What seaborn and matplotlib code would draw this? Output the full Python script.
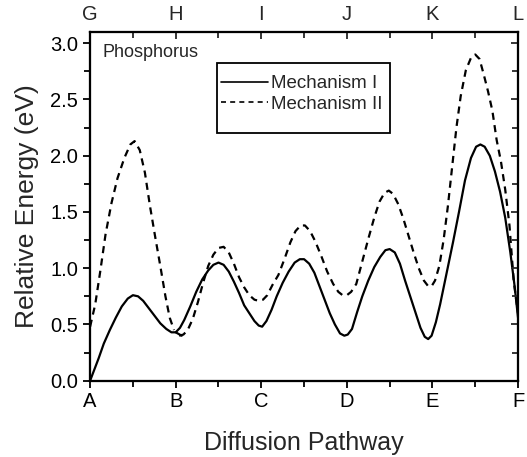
import pandas as pd
import matplotlib
matplotlib.use("Agg")
import matplotlib.pyplot as plt
from matplotlib.lines import Line2D
from matplotlib.patches import Rectangle
from matplotlib.ticker import MultipleLocator
import seaborn as sns

# values
mech1_ab_x = [0.00, 0.05, 0.10, 0.16, 0.23, 0.30, 0.37, 0.44, 0.50, 0.56, 0.62, 0.68, 0.75,
              0.82, 0.89, 0.95, 1.00, 1.07]
mech1_ab_y = [0.00, 0.10, 0.20, 0.33, 0.45, 0.56, 0.66, 0.73, 0.76, 0.75, 0.71, 0.65, 0.58,
              0.51, 0.46, 0.43, 0.43, 0.40]
mech1_bf_x = [1.00, 1.05, 1.10, 1.17, 1.24, 1.31, 1.38, 1.44, 1.50, 1.56, 1.62, 1.68, 1.74,
              1.80, 1.86, 1.92, 1.97, 2.01, 2.06, 2.12, 2.18, 2.25, 2.32, 2.39, 2.45, 2.50,
              2.56, 2.62, 2.68, 2.74, 2.80, 2.86, 2.92, 2.97, 3.01, 3.06, 3.12, 3.18, 3.25,
              3.32, 3.39, 3.45, 3.50, 3.56, 3.62, 3.68, 3.74, 3.80, 3.86, 3.91, 3.95, 3.99,
              4.04, 4.09, 4.15, 4.24, 4.31, 4.38, 4.45, 4.51, 4.56, 4.61, 4.67, 4.73, 4.79,
              4.85, 4.91, 4.96, 5.00]
mech1_bf_y = [0.43, 0.47, 0.54, 0.66, 0.79, 0.90, 0.98, 1.03, 1.05, 1.03, 0.97, 0.88, 0.78,
              0.67, 0.60, 0.53, 0.49, 0.48, 0.53, 0.63, 0.75, 0.87, 0.97, 1.05, 1.08, 1.08,
              1.04, 0.96, 0.84, 0.72, 0.60, 0.50, 0.42, 0.40, 0.41, 0.46, 0.61, 0.75, 0.89,
              1.01, 1.10, 1.16, 1.17, 1.14, 1.04, 0.89, 0.75, 0.61, 0.47, 0.39, 0.37, 0.40,
              0.52, 0.68, 0.90, 1.23, 1.50, 1.78, 1.98, 2.08, 2.10, 2.08, 2.00, 1.86, 1.68,
              1.45, 1.14, 0.84, 0.56]

mech2_ab_x = [0.00, 0.06, 0.12, 0.18, 0.25, 0.32, 0.40, 0.47, 0.52, 0.58, 0.64, 0.70, 0.76,
              0.82, 0.88, 0.93, 0.98]
mech2_ab_y = [0.48, 0.68, 0.98, 1.30, 1.58, 1.80, 1.98, 2.10, 2.13, 2.05, 1.85, 1.55, 1.28,
              1.02, 0.75, 0.56, 0.45]
mech2_bf_x = [1.04, 1.09, 1.14, 1.20, 1.26, 1.32, 1.38, 1.44, 1.50, 1.56, 1.62, 1.68, 1.74,
              1.80, 1.86, 1.92, 1.97, 2.02, 2.07, 2.13, 2.20, 2.27, 2.34, 2.40, 2.46, 2.51,
              2.57, 2.63, 2.70, 2.77, 2.84, 2.90, 2.95, 3.00, 3.05, 3.11, 3.18, 3.25, 3.32,
              3.38, 3.44, 3.49, 3.54, 3.60, 3.66, 3.72, 3.78, 3.84, 3.90, 3.95, 3.99, 4.03,
              4.08, 4.13, 4.18, 4.23, 4.28, 4.33, 4.39, 4.45, 4.50, 4.55, 4.60, 4.65, 4.70,
              4.75, 4.80, 4.85, 4.90, 4.95, 5.00]
mech2_bf_y = [0.40, 0.41, 0.45, 0.55, 0.70, 0.87, 1.02, 1.12, 1.18, 1.19, 1.14, 1.04, 0.92,
              0.83, 0.76, 0.72, 0.71, 0.72, 0.76, 0.85, 0.94, 1.08, 1.23, 1.33, 1.38, 1.38,
              1.33, 1.24, 1.11, 0.97, 0.86, 0.79, 0.76, 0.76, 0.79, 0.86, 1.06, 1.26, 1.45,
              1.59, 1.67, 1.69, 1.66, 1.57, 1.44, 1.29, 1.14, 1.00, 0.89, 0.84, 0.84, 0.89,
              1.02, 1.25, 1.55, 1.90, 2.25, 2.53, 2.76, 2.87, 2.90, 2.86, 2.72, 2.57, 2.40,
              2.14, 1.95, 1.70, 1.38, 0.88, 0.60]

bottom_labels = ["A", "B", "C", "D", "E", "F"]
top_labels = ["G", "H", "I", "J", "K", "L"]
series_names = ["Mechanism I", "Mechanism II"]

parts = []
for name, seg, xs, ys in [(series_names[0], "1a", mech1_ab_x, mech1_ab_y),
                          (series_names[0], "1b", mech1_bf_x, mech1_bf_y),
                          (series_names[1], "2a", mech2_ab_x, mech2_ab_y),
                          (series_names[1], "2b", mech2_bf_x, mech2_bf_y)]:
    parts.append(pd.DataFrame({"x": xs, "energy": ys, "mechanism": name, "segment": seg}))
df = pd.concat(parts, ignore_index=True)

sns.set_style("ticks")
plt.rcParams["font.family"] = ["Liberation Sans", "DejaVu Sans"]

dash_map = {"Mechanism I": "", "Mechanism II": (3.2, 2.4)}

fig = plt.figure(figsize=(5.27, 4.57), dpi=100)
ax = fig.add_axes([0.171, 0.167, 0.812, 0.763])
sns.lineplot(data=df, x="x", y="energy", style="mechanism", units="segment",
             estimator=None, sort=False, dashes=dash_map, color="black",
             linewidth=1.6, legend=False, ax=ax)

ax.set_xlim(0, 5)
ax.set_ylim(0, 3.1)
ax.set_xticks(range(6))
ax.set_xticklabels(bottom_labels)
ax.xaxis.set_minor_locator(MultipleLocator(0.5))
ax.yaxis.set_major_locator(MultipleLocator(0.5))
ax.yaxis.set_minor_locator(MultipleLocator(0.25))
ax.set_yticklabels([f"{v:.1f}" for v in ax.get_yticks()])
ax.tick_params(which="both", direction="out", width=1.3, colors="black", labelsize=14.5)
ax.tick_params(which="major", length=5)
ax.tick_params(which="minor", length=4)
ax.set_xlabel("Diffusion Pathway", fontsize=18, labelpad=14)
ax.set_ylabel("Relative Energy (eV)", fontsize=19, labelpad=8)
for sp in ax.spines.values():
    sp.set_visible(True)
    sp.set_linewidth(1.5)
    sp.set_color("black")

ax_top = ax.twiny()
ax_top.set_xlim(0, 5)
ax_top.set_xticks(range(6))
ax_top.set_xticklabels(top_labels)
ax_top.xaxis.set_minor_locator(MultipleLocator(0.5))
ax_top.tick_params(which="both", direction="in", width=1.3, labelsize=14.5, pad=6)
ax_top.tick_params(which="major", length=5)
ax_top.tick_params(which="minor", length=4)

ax_right = ax.twinx()
ax_right.set_ylim(0, 3.1)
ax_right.yaxis.set_major_locator(MultipleLocator(0.5))
ax_right.yaxis.set_minor_locator(MultipleLocator(0.25))
ax_right.tick_params(which="both", direction="in", width=1.3, labelright=False)
ax_right.tick_params(which="major", length=5)
ax_right.tick_params(which="minor", length=4)
for a in (ax_top, ax_right):
    for sp in a.spines.values():
        sp.set_linewidth(1.5)
        sp.set_color("black")

ax.text(0.03, 0.94, "Phosphorus", transform=ax.transAxes, fontsize=13, va="center", ha="left")

# legend box drawn by hand, text/handles by the legend
ax_right.add_patch(Rectangle((0.297, 0.710), 0.404, 0.201, transform=ax.transAxes,
                             fill=False, edgecolor="black", linewidth=1.3, zorder=5))
handles = [Line2D([], [], color="black", linewidth=1.2, label=series_names[0]),
           Line2D([], [], color="black", linewidth=1.2, dashes=(3, 2.5), label=series_names[1])]
leg = ax_right.legend(handles=handles, loc="center", bbox_to_anchor=(0.495, 0.822),
                      fontsize=13.5, frameon=False, handlelength=2.5,
                      handletextpad=0.15, borderpad=0.2, labelspacing=0.2, borderaxespad=0)

fig.savefig("out.png", dpi=100)
